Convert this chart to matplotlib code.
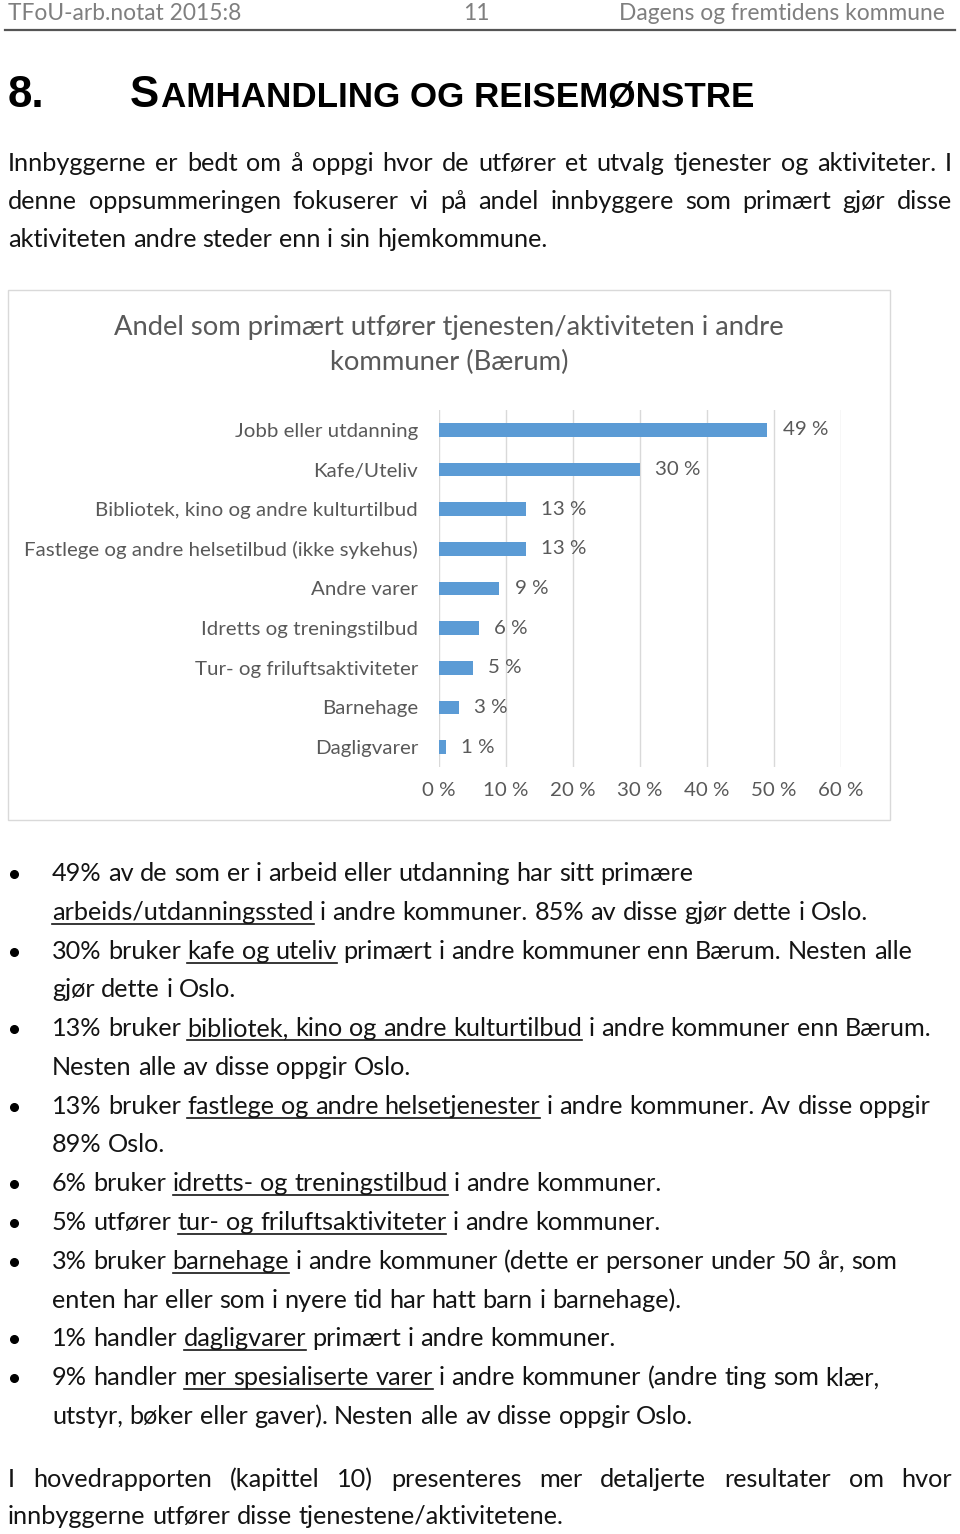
import matplotlib.pyplot as plt
from matplotlib.lines import Line2D
from matplotlib.patches import Rectangle

# ---- chart data ----
categories = [
    "Jobb eller utdanning",
    "Kafe/Uteliv",
    "Bibliotek, kino og andre kulturtilbud",
    "Fastlege og andre helsetilbud (ikke sykehus)",
    "Andre varer",
    "Idretts og treningstilbud",
    "Tur- og friluftsaktiviteter",
    "Barnehage",
    "Dagligvarer",
]
values = [49, 30, 13, 13, 9, 6, 5, 3, 1]
x_ticks = [0, 10, 20, 30, 40, 50, 60]
chart_title = ["Andel som primært utfører tjenesten/aktiviteten i andre",
               "kommuner (Bærum)"]

# ---- page text ----
header_left = "TFoU-arb.notat 2015:8"
header_mid = "11"
header_right = "Dagens og fremtidens kommune"
heading_num = "8."
heading_first = "S"
heading_rest = "AMHANDLING OG REISEMØNSTRE"

intro = [
    "Innbyggerne er bedt om å oppgi hvor de utfører et utvalg tjenester og aktiviteter. I",
    "denne oppsummeringen fokuserer vi på andel innbyggere som primært gjør disse",
    "aktiviteten andre steder enn i sin hjemkommune.",
]

# each bullet: list of lines, each line: list of (text, underlined)
bullets = [
    [[("49% av de som er i arbeid eller utdanning har sitt primære", False)],
     [("arbeids/utdanningssted", True), ("i andre kommuner. 85% av disse gjør dette i Oslo.", False)]],
    [[("30% bruker", False), ("kafe og uteliv", True), ("primært i andre kommuner enn Bærum. Nesten alle", False)],
     [("gjør dette i Oslo.", False)]],
    [[("13% bruker", False), ("bibliotek, kino og andre kulturtilbud", True), ("i andre kommuner enn Bærum.", False)],
     [("Nesten alle av disse oppgir Oslo.", False)]],
    [[("13% bruker", False), ("fastlege og andre helsetjenester", True), ("i andre kommuner. Av disse oppgir", False)],
     [("89% Oslo.", False)]],
    [[("6% bruker", False), ("idretts- og treningstilbud", True), ("i andre kommuner.", False)]],
    [[("5% utfører", False), ("tur- og friluftsaktiviteter", True), ("i andre kommuner.", False)]],
    [[("3% bruker", False), ("barnehage", True), ("i andre kommuner (dette er personer under 50 år, som", False)],
     [("enten har eller som i nyere tid har hatt barn i barnehage).", False)]],
    [[("1% handler", False), ("dagligvarer", True), ("primært i andre kommuner.", False)]],
    [[("9% handler", False), ("mer spesialiserte varer", True), ("i andre kommuner (andre ting som klær,", False)],
     [("utstyr, bøker eller gaver). Nesten alle av disse oppgir Oslo.", False)]],
]

closing = [
    "I hovedrapporten (kapittel 10) presenteres mer detaljerte resultater om hvor",
    "innbyggerne utfører disse tjenestene/aktivitetene.",
]

W, H = 960, 1534
BODY = "Lato"
TEXT = "#141414"
GREY = "#7f7f7f"
CHART_TXT = "#595959"
BAR = "#5b9bd5"
GRID = "#d9d9d9"

fig = plt.figure(figsize=(W / 100, H / 100), dpi=100)
fig.patch.set_facecolor("white")
renderer = fig.canvas.get_renderer()


def fx(x):
    return x / W


def fy(y):
    return 1 - y / H


def text_width(s, size, family=BODY, weight="normal"):
    t = fig.text(0, 0, s, fontsize=size, family=family, weight=weight)
    w = t.get_window_extent(renderer).width
    t.remove()
    return w


def fit_size(sample, target, family=BODY, weight="normal"):
    return 10 * target / text_width(sample, 10, family, weight)


def draw_line(segments, x0, y, size, justify_to=None, color=TEXT):
    words = []
    for txt, ul in segments:
        for w in txt.split():
            words.append((w, ul))
    widths = [text_width(w, size) for w, _ in words]
    sp = text_width("n n", size) - 2 * text_width("n", size)
    if justify_to is not None and len(words) > 1:
        sp = (justify_to - x0 - sum(widths)) / (len(words) - 1)
    x = x0
    spans = []
    for i, ((w, ul), wd) in enumerate(zip(words, widths)):
        fig.text(fx(x), fy(y), w, fontsize=size, family=BODY, color=color,
                 ha="left", va="baseline")
        if ul:
            if spans and spans[-1][2] == i - 1:
                spans[-1][1] = x + wd
                spans[-1][2] = i
            else:
                spans.append([x, x + wd, i])
        x += wd + sp
    for a, b, _ in spans:
        fig.add_artist(Line2D([fx(a), fx(b)], [fy(y + 4), fy(y + 4)],
                              color=color, lw=1.2, transform=fig.transFigure))


# ---- header ----
hsize = fit_size(header_right, 324)
fig.text(fx(8), fy(20), header_left, fontsize=hsize, family=BODY, color=GREY,
         ha="left", va="baseline")
fig.text(fx(476), fy(20), header_mid, fontsize=hsize, family=BODY, color=GREY,
         ha="center", va="baseline")
fig.text(fx(945), fy(20), header_right, fontsize=hsize, family=BODY, color=GREY,
         ha="right", va="baseline")
fig.add_artist(Line2D([fx(5), fx(955)], [fy(30), fy(30)], color="#555555", lw=1.6,
                      transform=fig.transFigure))

# ---- heading ----
HFAM = "Liberation Sans"
w_first = text_width(heading_first, 10, HFAM, "bold")
w_rest = text_width(heading_rest, 8, HFAM, "bold")
k = 630 / (w_first + w_rest + 2)
big, small = 10 * k, 8 * k
fig.text(fx(8), fy(107), heading_num, fontsize=big, family=HFAM, weight="bold",
         color="black", ha="left", va="baseline")
fig.text(fx(130), fy(107), heading_first, fontsize=big, family=HFAM, weight="bold",
         color="black", ha="left", va="baseline")
fig.text(fx(130 + w_first * k + 2), fy(107), heading_rest, fontsize=small, family=HFAM,
         weight="bold", color="black", ha="left", va="baseline")

# ---- body text ----
bsize = fit_size(intro[2], 540)
base_off = 8
draw_line([(intro[0], False)], 8, 163 + base_off, bsize, justify_to=952)
draw_line([(intro[1], False)], 8, 201 + base_off, bsize, justify_to=952)
draw_line([(intro[2], False)], 8, 239 + base_off, bsize)

# ---- chart frame and title ----
frame = Rectangle((fx(8), fy(820)), (890 - 8) / W, (820 - 290) / H,
                  transform=fig.transFigure, facecolor="white",
                  edgecolor=GRID, lw=1, zorder=-10)
fig.add_artist(frame)
tsize = fit_size(chart_title[0], 672)
fig.text(fx(449), fy(327), chart_title[0], fontsize=tsize, family=BODY,
         color=CHART_TXT, ha="center", va="center")
fig.text(fx(449), fy(362), chart_title[1], fontsize=tsize, family=BODY,
         color=CHART_TXT, ha="center", va="center")

lsize = fit_size(categories[3], 393)
ax = fig.add_axes([fx(439), fy(767), (841 - 439) / W, (767 - 410) / H])
ax.set_zorder(5)
ypos = list(range(len(categories)))
ax.barh(ypos, values, height=0.34, color=BAR, zorder=3)
ax.set_ylim(len(categories) - 0.5, -0.5)
ax.set_xlim(0, 60)
ax.set_xticks(x_ticks)
ax.set_xticklabels([f"{t} %" for t in x_ticks], fontsize=lsize, family=BODY,
                   color=CHART_TXT)
ax.set_yticks(ypos)
ax.set_yticklabels(categories, fontsize=lsize, family=BODY, color=CHART_TXT)
ax.tick_params(axis="both", length=0)
ax.tick_params(axis="x", pad=11)
ax.tick_params(axis="y", pad=15)
ax.grid(axis="x", color=GRID, lw=1, zorder=0)
for s in ax.spines.values():
    s.set_visible(False)
ax.set_facecolor("none")
for yv, v in zip(ypos, values):
    ax.annotate(f"{v} %", (v, yv), xytext=(11, 0), textcoords="offset points",
                ha="left", va="center", fontsize=lsize, family=BODY, color=CHART_TXT)

# ---- bullets ----
line_y = 873
step = (1416 - 873) / 14
for b in bullets:
    fig.add_artist(Line2D([fx(14)], [fy(line_y + 1)], marker="o", ms=5.5,
                          color="black", transform=fig.transFigure))
    for ln in b:
        draw_line(ln, 52, line_y + base_off, bsize)
        line_y += step

# ---- closing paragraph ----
draw_line([(closing[0], False)], 8, 1479 + base_off, bsize, justify_to=952)
draw_line([(closing[1], False)], 8, 1516 + base_off, bsize)

fig.savefig("out.png", dpi=100, facecolor="white")
